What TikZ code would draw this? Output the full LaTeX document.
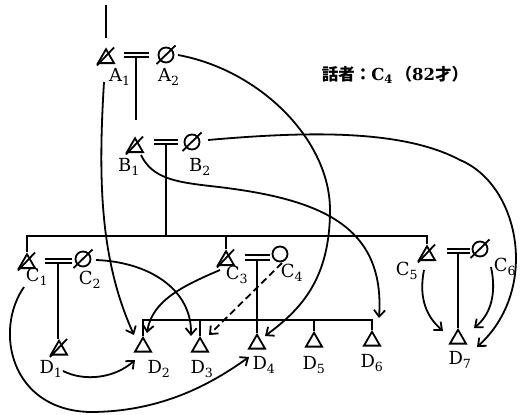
\documentclass[tikz,border=0pt]{standalone}
\usepackage{fontspec}
\setmainfont{DejaVu Serif}
\newfontfamily\jp{Noto Sans CJK JP}
\usetikzlibrary{shapes.geometric,arrows.meta,calc}
\begin{document}
\begin{tikzpicture}[x=1pt,y=-1pt,line width=1.8pt,
  male/.style={regular polygon,regular polygon sides=3,draw,minimum size=18.5pt,inner sep=0pt},
  female/.style={circle,draw,minimum size=15pt,inner sep=0pt},
  lbl/.style={inner sep=0pt,font=\fontsize{18}{20}\selectfont},
  arr/.style={-{Straight Barb[length=6.5pt,width=11pt]}},
  dashedarr/.style={arr,dash pattern=on 7pt off 4pt}]
\useasboundingbox (0,0) rectangle (520,415);
\node[male] (A1) at (106,58.5) {};
\node[female] (A2) at (166,55) {};
\node[male] (B1) at (135,147.5) {};
\node[female] (B2) at (192,142) {};
\node[male] (C1) at (27,263.5) {};
\node[female] (C2) at (83,259) {};
\node[male] (C3) at (226,260.5) {};
\node[female] (C4) at (280,254) {};
\node[male] (C5) at (427,255.5) {};
\node[female] (C6) at (480,249) {};
\node[male] (D1) at (59,350) {};
\node[male] (D2) at (143,347) {};
\node[male] (D3) at (200,347) {};
\node[male] (D4) at (257,344) {};
\node[male] (D5) at (314,342) {};
\node[male] (D6) at (372,341) {};
\node[male] (D7) at (458,339) {};
\node[lbl] (lA1) at (120,77) {A\textsubscript{1}};
\node[lbl] (lA2) at (169,77) {A\textsubscript{2}};
\node[lbl] (lB1) at (129,167) {B\textsubscript{1}};
\node[lbl] (lB2) at (200,167) {B\textsubscript{2}};
\node[lbl] (lC1) at (37,277) {C\textsubscript{1}};
\node[lbl] (lC2) at (90,280) {C\textsubscript{2}};
\node[lbl] (lC3) at (237,275) {C\textsubscript{3}};
\node[lbl] (lC4) at (292,273) {C\textsubscript{4}};
\node[lbl] (lC5) at (407,271) {C\textsubscript{5}};
\node[lbl] (lC6) at (505,267) {C\textsubscript{6}};
\node[lbl] (lD1) at (51,369) {D\textsubscript{1}};
\node[lbl] (lD2) at (159,369) {D\textsubscript{2}};
\node[lbl] (lD3) at (202,369) {D\textsubscript{3}};
\node[lbl] (lD4) at (264,365) {D\textsubscript{4}};
\node[lbl] (lD5) at (314,365) {D\textsubscript{5}};
\node[lbl] (lD6) at (372,363) {D\textsubscript{6}};
\node[lbl] (lD7) at (460,360) {D\textsubscript{7}};
\node[inner sep=0pt] (title) at (395,75) {\fontsize{16.5}{19}\selectfont\bfseries{\jp 話者：}C\textsubscript{4}\,{\jp （}82{\jp 才）}};
% deceased
\foreach \n in {A1,B1,C1,C3,C5,D1}
  \draw ([shift={(-9,7)}]\n.center) -- ([shift={(8,-11)}]\n.center);
\foreach \n in {A2,B2,C2,C6}
  \draw ([shift={(-9.5,9)}]\n.center) -- ([shift={(9.5,-9.5)}]\n.center);
% marriages
\coordinate (mA) at (136,55);
\coordinate (mB) at (166,142);
\coordinate (mC1) at (58,261);
\coordinate (mC3) at (257,257.5);
\coordinate (mC5) at (458,251);
\foreach \m/\w in {mA/12.5,mB/12,mC1/13.5,mC3/12.5,mC5/11.5} {
  \draw ([shift={(-\w,-2.2)}]\m) -- ([shift={(\w,-2.2)}]\m);
  \draw ([shift={(-\w,2.2)}]\m) -- ([shift={(\w,2.2)}]\m);
}
\coordinate (top) at (106,5);
\coordinate (cl) at (0,236);
\coordinate (dl) at (0,320);
\draw (top) -- ([shift={(0,-9)}]A1.north);
\draw ([shift={(0,2)}]mA) -- ($(mA |- B1.north)+(0,-16)$);
\draw ([shift={(0,2)}]mB) -- (mB |- cl);
\draw (C1.north) -- (C1.north |- cl) -- (C5.north |- cl) -- (C5.north);
\draw (C3.north) -- (C3.north |- cl);
\draw ([shift={(0,2)}]mC1) -- (mC1 |- D1.north);
\draw ([shift={(0,2)}]mC3) -- (D4.north);
\draw ([shift={(0,2)}]mC5) -- (D7.north);
\draw (D2.north) -- (D2.north |- dl) -- (D6.north |- dl) -- (D6.north);
\foreach \n in {D3,D5}
  \draw (\n.north) -- (\n.north |- dl);
% arrows
\draw[arr] ([shift={(-2,23.5)}]A1.center) .. controls (98,180) and (100,260) .. ([shift={(-9,-12)}]D2.center);
\draw[arr] ([shift={(12,0)}]A2.center) .. controls (260,70) and (330,140) .. (330,210)
  .. controls (330,280) and (300,310) .. ([shift={(8,-8)}]D4.center);
\draw[arr] ([shift={(6,7.5)}]B1.center) .. controls (152,178) and (175,182) .. (210,186)
  .. controls (320,198) and (385,225) .. ([shift={(7,-23)}]D6.center);
\draw[arr] ([shift={(16,-2)}]B2.center) .. controls (300,132) and (400,128) .. (460,160)
  .. controls (520,185) and (540,290) .. ([shift={(19,8)}]D7.center);
\draw[arr] ([shift={(-3,23.5)}]C1.center) .. controls (-6,330) and (10,410) .. (90,412)
  .. controls (160,412) and (210,385) .. ([shift={(-8,13)}]D4.center);
\draw[arr] ([shift={(13,1)}]C2.center) .. controls (150,262) and (192,290) .. ([shift={(-9,-11)}]D3.center);
\draw[arr] ([shift={(-6,9.5)}]C3.center) .. controls (185,285) and (152,300) .. ([shift={(4,-14)}]D2.center);
\draw[arr] ([shift={(4,21)}]D1.center) .. controls (85,382) and (115,378) .. ([shift={(-8,13)}]D2.center);
\draw[dashedarr] ([shift={(2,9)}]C4.center) -- ([shift={(9,-12)}]D3.center);
\draw[arr] ([shift={(-3,14.5)}]C5.center) .. controls (418,300) and (428,318) .. ([shift={(-15,-8)}]D7.center);
\draw[arr] ([shift={(11,18)}]C6.center) .. controls (497,295) and (490,315) .. ([shift={(16,-11)}]D7.center);
\end{tikzpicture}
\end{document}
